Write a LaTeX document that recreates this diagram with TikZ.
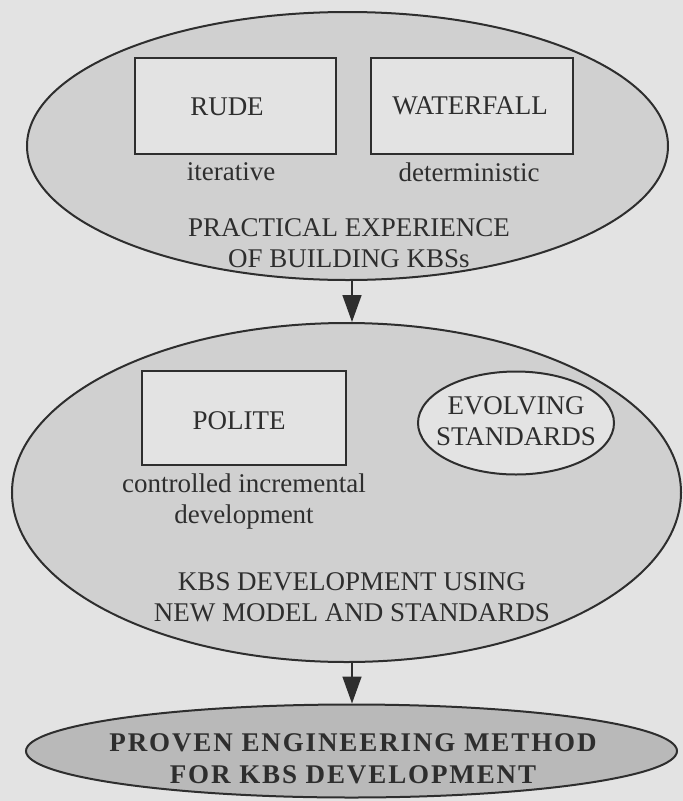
\documentclass[tikz,border=0pt]{standalone}
\usepackage{fontspec}
\setmainfont{Liberation Serif}
\usetikzlibrary{arrows.meta,shapes.geometric}
\definecolor{bg}{HTML}{E3E3E3}
\definecolor{ellfill}{HTML}{D0D0D0}
\definecolor{darkfill}{HTML}{B9B9B9}
\definecolor{ink}{HTML}{2E2E2E}
\begin{document}
\begin{tikzpicture}[x=1pt,y=-1pt,
  txt/.style={font=\fontsize{27}{31}\selectfont, text=ink, align=center, inner sep=0pt},
  stage/.style={ellipse, draw=ink, line width=2pt, fill=ellfill, inner sep=0pt},
  model/.style={rectangle, draw=ink, line width=2.4pt, fill=bg, inner sep=0pt},
  flow/.style={draw=ink, line width=1.6pt, -{Triangle[length=27pt,width=19pt]}}]
  % canvas
  \fill[bg] (0,0) rectangle (683,801);
  \useasboundingbox (0,0) rectangle (683,801);

  % first stage
  \node[stage, minimum width=641pt, minimum height=268pt] (exp) at (347.5,146) {};
  \node[model, minimum width=201pt, minimum height=96pt] (rude) at (235.5,106) {};
  \node[txt] (rudel) at (227,107) {RUDE};
  \node[model, minimum width=202pt, minimum height=96pt] (wfall) at (472,106) {};
  \node[txt] (wfalll) at (470,106) {WATERFALL};
  \node[txt] (iter) at (231,172) {iterative};
  \node[txt] (det) at (469,172) {deterministic};
  \node[txt] (expl) at (349,243) {PRACTICAL EXPERIENCE\\OF BUILDING KBSs};

  % second stage
  \node[stage, minimum width=669pt, minimum height=339pt] (dev) at (346.5,492.5) {};
  \node[model, minimum width=204pt, minimum height=94pt] (polite) at (244,418) {};
  \node[txt] (politel) at (239,421) {POLITE};
  \node[ellipse, draw=ink, line width=2pt, fill=bg, inner sep=0pt,
        minimum width=196pt, minimum height=103pt] (std) at (516,423) {};
  \node[txt] (stdl) at (516,421) {EVOLVING\\STANDARDS};
  \node[txt] (ctrl) at (244,501) {controlled incremental\\development};
  \node[txt] (devl) at (352,597) {KBS DEVELOPMENT USING\\NEW MODEL AND STANDARDS};

  % outcome
  \node[stage, fill=darkfill, minimum width=651pt, minimum height=93pt] (proven) at (351.5,751) {};
  \node[txt, font=\fontsize{27}{32}\selectfont\bfseries\addfontfeature{LetterSpace=7}] (provenl) at (353,759)
    {PROVEN ENGINEERING METHOD\\FOR KBS DEVELOPMENT};

  % connectors run straight down the common axis
  \coordinate (axis) at (352,0);
  \draw[flow] (exp.south -| axis) -- (dev.north -| axis);
  \draw[flow] (dev.south -| axis) -- (proven.north -| axis);
\end{tikzpicture}
\end{document}
